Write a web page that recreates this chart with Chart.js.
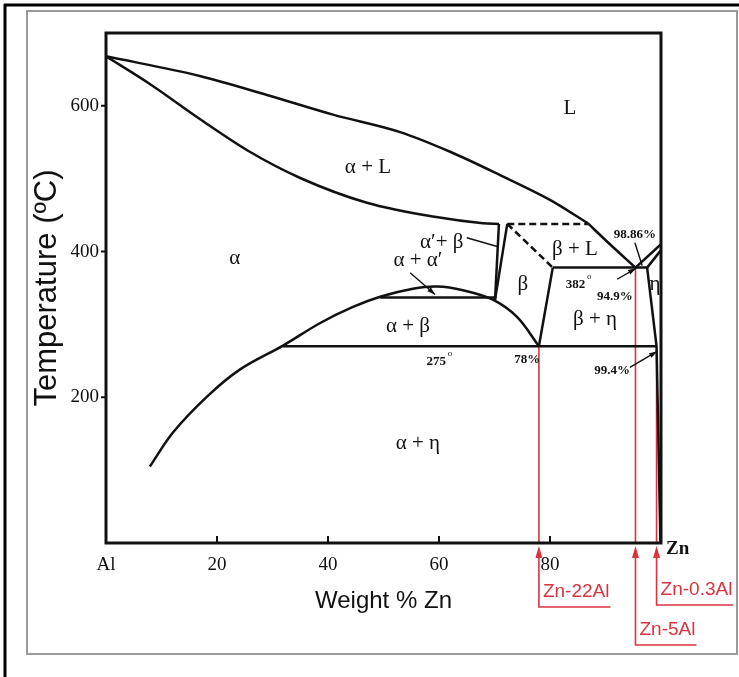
<!DOCTYPE html>
<html><head><meta charset="utf-8">
<script src="https://cdn.jsdelivr.net/npm/chart.js@4.4.1/dist/chart.umd.min.js"></script>
<style>html,body{margin:0;padding:0;background:#fff;}canvas{display:block;}</style>
</head><body>
<canvas id="c" width="739" height="677"></canvas>
<script>
// ===== Data (x = wt% Zn, y = temperature °C) =====
const xTickValues = [0, 20, 40, 60, 80, 100];
const xTickLabels = ["Al", "20", "40", "60", "80", ""];
const yTickValues = [0, 200, 400, 600];
const yTickLabels = ["", "200", "400", "600"];

const liquidusZn = [0, 16.9, 29, 40.9, 53, 62, 71, 80, 86.8];
const liquidusT  = [668, 641, 615, 588, 564, 537, 505, 471, 439];
const liquidusLowZn = [86.8, 90.8, 95.4];
const liquidusLowT  = [439, 410, 378];
const solidusZn = [0, 7.9, 16.9, 25.9, 35, 47, 58.9, 67.9, 70.8];
const solidusT  = [668, 630, 582, 537, 501, 467, 448, 439, 438];
const solvusZn = [7.9, 12.1, 18.2, 24.1, 31.9, 38.6, 44.5, 49.4, 55.3, 59.6, 64.3, 69.7, 74.1, 78];
const solvusT  = [105, 152, 201, 238, 271, 302, 324, 338, 349, 352, 347, 334, 310, 270];
const alphaPrimeLeftZn = [70.8, 70.1];  const alphaPrimeLeftT = [438, 334];
const alphaPrimeRightZn = [72.3, 70.1]; const alphaPrimeRightT = [438, 334];
const gapBaseZn = [49.4, 70.1];         const gapBaseT = [337, 337];
const eutectoidZn = [31.9, 99.2];       const eutectoidT = [270, 270];
const eutecticZn = [80.5, 97.5];        const eutecticT = [378, 378];
const betaRightZn = [80.5, 78];         const betaRightT = [378, 270];
const peritecticDashZn = [72.3, 86.8];  const peritecticDashT = [438, 438];
const betaDashZn = [72.3, 80.5];        const betaDashT = [438, 378];
const znLiquidusZn = [95.4, 100];       const znLiquidusT = [378, 410];
const etaSolidusZn = [97.5, 100];       const etaSolidusT = [378, 402];
const etaSolvusZn = [97.5, 99.2, 99.9]; const etaSolvusT = [378, 270, 0];

const alloyNames = ["Zn-22Al", "Zn-5Al", "Zn-0.3Al"];
const alloyZn    = [78, 95.4, 99.2];
const alloyTopT  = [270, 378, 266];

const phaseLabels   = ["L", "α + L", "α", "α′+ β", "α + α′", "β", "β + L", "β + η", "η", "α + β", "α + η"];
const phaseLabelZn  = [83.6, 47.2, 23.2, 60.5, 56.2, 75.1, 84.5, 88.1, 98.9, 54.4, 56.2];
const phaseLabelT   = [597, 515, 390, 412, 388, 355, 403, 307, 355, 297, 136];

const pointLabels   = ["98.86%", "94.9%", "382", "78%", "275", "99.4%"];
const pointLabelZn  = [95.3, 91.7, 84.6, 75.9, 59.5, 91.2];
const pointLabelT   = [423, 338, 355, 251, 249, 236];
const pointLabelDeg = [false, false, true, false, true, false];

const leaderFromZn = [65.0, 54.8, 95.3, 92.1, 94.4];
const leaderFromT  = [419, 371, 412, 362, 241];
const leaderToZn   = [70.5, 59.3, 96.6, 95.5, 99.3];
const leaderToT    = [407, 341, 381, 377, 263];
const leaderArrow  = [false, true, false, true, true];

// ===== helpers =====
const INK = '#111';
const RED = '#d93340';
function pts(xs, ts) { return xs.map((x, i) => ({x: x, y: ts[i]})); }
function line(xs, ts, extra) {
  return Object.assign({data: pts(xs, ts), showLine: true, pointRadius: 0, pointHoverRadius: 0,
    borderColor: INK, borderWidth: 2.5, fill: false, tension: 0, order: 1}, extra || {});
}
const curve = {cubicInterpolationMode: 'monotone'};
const smooth = {tension: 0.35};
const dashed = {borderDash: [7, 4]};

const datasets = [
  line(liquidusZn, liquidusT, curve),
  line(liquidusLowZn, liquidusLowT, curve),
  line(solidusZn, solidusT, curve),
  line(solvusZn, solvusT, smooth),
  line(alphaPrimeLeftZn, alphaPrimeLeftT),
  line(alphaPrimeRightZn, alphaPrimeRightT),
  line(gapBaseZn, gapBaseT),
  line(eutectoidZn, eutectoidT),
  line(eutecticZn, eutecticT),
  line(betaRightZn, betaRightT),
  line(peritecticDashZn, peritecticDashT, dashed),
  line(betaDashZn, betaDashT, dashed),
  line(znLiquidusZn, znLiquidusT),
  line(etaSolidusZn, etaSolidusT),
  line(etaSolvusZn, etaSolvusT)
];
leaderFromZn.forEach((z, i) => {
  datasets.push(line([z, leaderToZn[i]], [leaderFromT[i], leaderToT[i]], {borderWidth: 1.4}));
});
alloyZn.forEach((z, i) => {
  datasets.push(line([z, z], [alloyTopT[i], 0], {borderColor: RED, borderWidth: 1.6, order: 2}));
});

// ===== plugins =====
const framePlugin = {
  id: 'frame',
  beforeDraw(chart) {
    const ctx = chart.ctx;
    ctx.save();
    ctx.fillStyle = '#fff';
    ctx.fillRect(0, 0, chart.width, chart.height);
    ctx.strokeStyle = '#9a9a9a'; ctx.lineWidth = 2;
    ctx.strokeRect(27, 11, 710, 643);
    ctx.strokeStyle = '#000'; ctx.lineWidth = 3;
    ctx.beginPath();
    ctx.moveTo(4, 5); ctx.lineTo(739, 5);
    ctx.moveTo(5, 4); ctx.lineTo(5, 677);
    ctx.stroke();
    ctx.restore();
  }
};

function arrowHead(ctx, x0, y0, x1, y1, len, half) {
  const a = Math.atan2(y1 - y0, x1 - x0);
  ctx.beginPath();
  ctx.moveTo(x1, y1);
  ctx.lineTo(x1 - len * Math.cos(a) + half * Math.sin(a), y1 - len * Math.sin(a) - half * Math.cos(a));
  ctx.lineTo(x1 - len * Math.cos(a) - half * Math.sin(a), y1 - len * Math.sin(a) + half * Math.cos(a));
  ctx.closePath();
  ctx.fill();
}

const annotationPlugin = {
  id: 'annotations',
  afterDatasetsDraw(chart) {
    const ctx = chart.ctx;
    const xs = chart.scales.x, ys = chart.scales.y;
    const a = chart.chartArea;
    ctx.save();
    // plot box
    ctx.strokeStyle = INK; ctx.lineWidth = 3;
    ctx.strokeRect(a.left, a.top, a.right - a.left, a.bottom - a.top);
    // tick marks: x inside (up), y outside (left)
    ctx.lineWidth = 2;
    ctx.beginPath();
    xs.ticks.forEach(t => {
      if (t.value > 0 && t.value < 100) {
        const px = xs.getPixelForValue(t.value);
        ctx.moveTo(px, a.bottom); ctx.lineTo(px, a.bottom - 7);
      }
    });
    ys.ticks.forEach(t => {
      if (t.value > 0) {
        const py = ys.getPixelForValue(t.value);
        ctx.moveTo(a.left, py); ctx.lineTo(a.left - 5, py);
      }
    });
    ctx.stroke();

    // phase labels
    ctx.fillStyle = INK;
    ctx.textAlign = 'center'; ctx.textBaseline = 'middle';
    ctx.font = '21px "Liberation Serif"';
    phaseLabels.forEach((t, i) => {
      ctx.fillText(t, xs.getPixelForValue(phaseLabelZn[i]), ys.getPixelForValue(phaseLabelT[i]));
    });
    // point labels
    pointLabels.forEach((t, i) => {
      ctx.font = 'bold 13px "Liberation Serif"';
      const px = xs.getPixelForValue(pointLabelZn[i]), py = ys.getPixelForValue(pointLabelT[i]);
      ctx.fillText(t, px, py);
      if (pointLabelDeg[i]) {
        const w = ctx.measureText(t).width;
        ctx.font = '9px "Liberation Serif"';
        ctx.fillText('o', px + w / 2 + 4, py - 8);
      }
    });
    // leader arrowheads
    leaderFromZn.forEach((z, i) => {
      if (!leaderArrow[i]) return;
      arrowHead(ctx, xs.getPixelForValue(z), ys.getPixelForValue(leaderFromT[i]),
        xs.getPixelForValue(leaderToZn[i]), ys.getPixelForValue(leaderToT[i]), 8, 2.6);
    });
    // Zn end label
    ctx.font = 'bold 19px "Liberation Serif"';
    ctx.textAlign = 'left'; ctx.textBaseline = 'middle';
    ctx.fillText('Zn', xs.getPixelForValue(100) + 5, a.bottom + 6);

    // red alloy markers below the axis
    const lineEnds = [64, 102, 62];
    ctx.strokeStyle = RED; ctx.fillStyle = RED; ctx.lineWidth = 1.6;
    ctx.font = '19px "Liberation Sans"';
    ctx.textAlign = 'left'; ctx.textBaseline = 'alphabetic';
    alloyNames.forEach((name, i) => {
      const px = xs.getPixelForValue(alloyZn[i]);
      const yEnd = a.bottom + lineEnds[i];
      const w = ctx.measureText(name).width;
      ctx.beginPath();
      ctx.moveTo(px, a.bottom + 10);
      ctx.lineTo(px, yEnd);
      ctx.lineTo(px + w + 5, yEnd);
      ctx.stroke();
      ctx.beginPath();
      ctx.moveTo(px, a.bottom + 3);
      ctx.lineTo(px - 3.5, a.bottom + 15);
      ctx.lineTo(px + 3.5, a.bottom + 15);
      ctx.closePath(); ctx.fill();
      ctx.fillText(name, px + 4, yEnd - 10);
    });
    ctx.restore();
  }
};

Chart.defaults.font.family = '"Liberation Serif"';
Chart.defaults.color = INK;

new Chart(document.getElementById('c'), {
  type: 'scatter',
  data: {datasets: datasets},
  options: {
    responsive: false,
    animation: false,
    devicePixelRatio: 1,
    layout: {padding: {left: 0, top: 33, right: 78, bottom: 0}},
    plugins: {legend: {display: false}, tooltip: {enabled: false}},
    events: [],
    scales: {
      x: {
        type: 'linear', position: 'bottom', min: 0, max: 100,
        afterBuildTicks: s => { s.ticks = xTickValues.map(v => ({value: v})); },
        afterFit: s => { s.height = 134; },
        ticks: {
          callback: (v, i) => xTickLabels[i],
          font: {family: '"Liberation Serif"', size: 19},
          color: INK, padding: 11, maxRotation: 0, autoSkip: false
        },
        grid: {display: false, drawTicks: false},
        border: {display: false},
        title: {display: true, text: 'Weight % Zn', color: INK,
          font: {family: '"Liberation Sans"', size: 24}, padding: {top: 0, bottom: 61}}
      },
      y: {
        type: 'linear', position: 'left', min: 0, max: 700,
        afterBuildTicks: s => { s.ticks = yTickValues.map(v => ({value: v})); },
        afterFit: s => { s.width = 106; },
        ticks: {
          callback: (v, i) => yTickLabels[i],
          font: {family: '"Liberation Serif"', size: 19},
          color: INK, padding: 7, autoSkip: false
        },
        grid: {display: false, drawTicks: false},
        border: {display: false},
        title: {display: true, text: 'Temperature (ºC)', color: INK,
          font: {family: '"Liberation Sans"', size: 31}, padding: {top: 29, bottom: 0}}
      }
    }
  },
  plugins: [framePlugin, annotationPlugin]
});
</script>
</body></html>
